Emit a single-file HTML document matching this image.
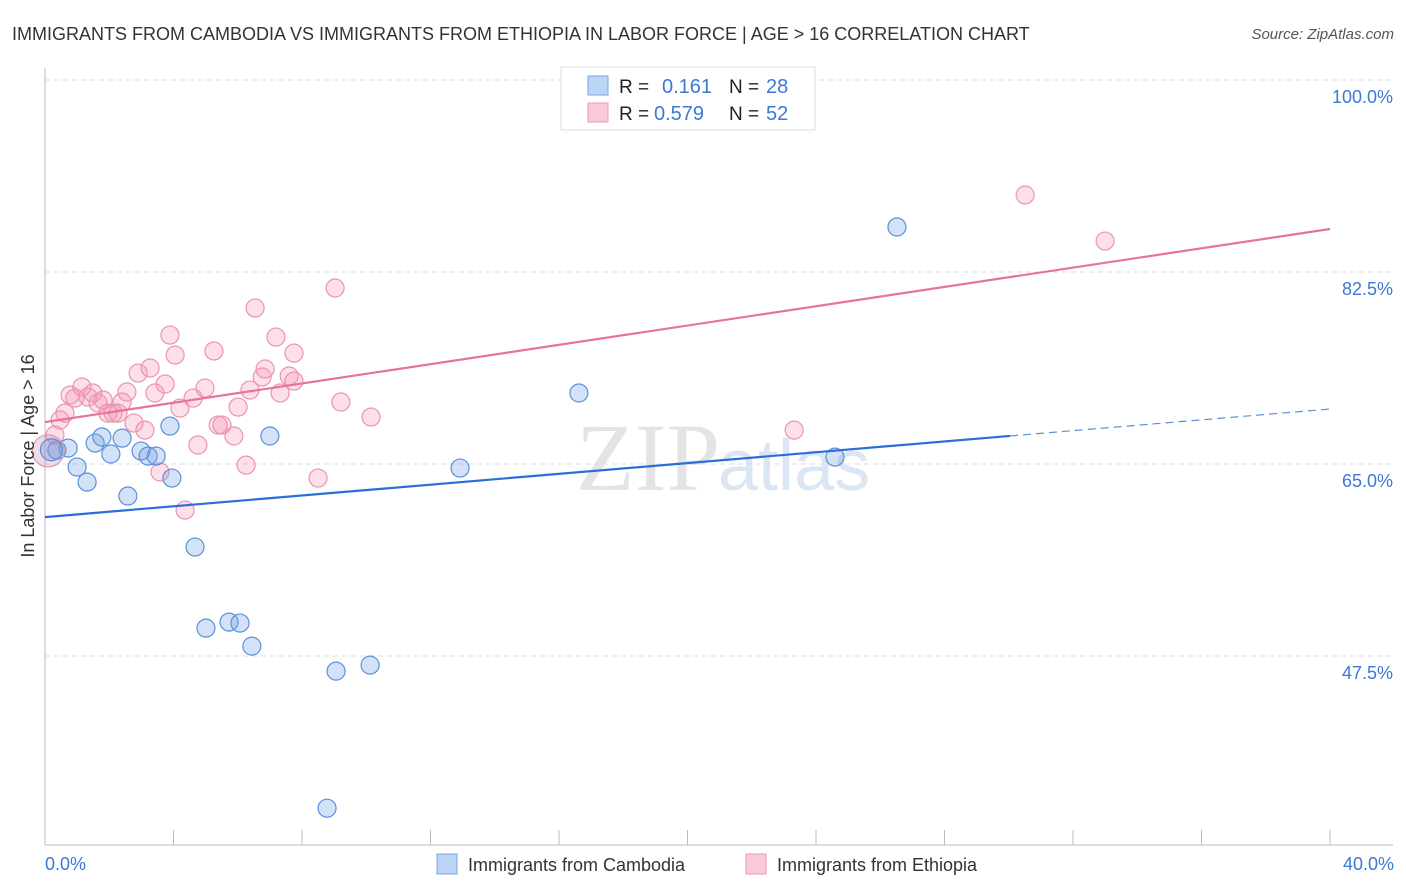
<!DOCTYPE html>
<html><head><meta charset="utf-8">
<style>
body{margin:0;background:#fff;font-family:"Liberation Sans",sans-serif;}
svg{display:block}
</style></head>
<body>
<svg id="chart" width="1406" height="892">
<text x="12" y="40" font-size="18" fill="#333">IMMIGRANTS FROM CAMBODIA VS IMMIGRANTS FROM ETHIOPIA IN LABOR FORCE | AGE &gt; 16 CORRELATION CHART</text>
<text x="1394" y="39" font-size="15" fill="#555" font-style="italic" text-anchor="end">Source: ZipAtlas.com</text>
<text x="720" y="490" font-size="96" fill="#e4e4e4" text-anchor="end" font-family="Liberation Serif,serif">ZIP</text>
<text x="718" y="490" font-size="72" fill="#dbe6f5">atlas</text>
<g id="grid"></g>
<g id="axes"></g>
<g id="marks"></g>
<text transform="translate(34,456) rotate(-90)" font-size="18" fill="#333" text-anchor="middle">In Labor Force | Age &gt; 16</text>
<text x="45" y="870" font-size="18" fill="#3b78d8">0.0%</text>
<text x="1394" y="870" font-size="18" fill="#3b78d8" text-anchor="end">40.0%</text>
<g>
<rect x="561" y="67" width="254" height="63" fill="#fff" stroke="#ddd"/>
<rect x="588" y="76" width="20" height="19" fill="#bcd4f5" stroke="#7aa6e6"/>
<rect x="588" y="103" width="20" height="19" fill="#fbcad9" stroke="#eb9ab5"/>
<text x="619" y="93" font-size="19" fill="#222">R = </text><text x="662" y="93" font-size="20" fill="#3b78d8">0.161</text>
<text x="729" y="93" font-size="19" fill="#222">N = </text><text x="766" y="93" font-size="20" fill="#3b78d8">28</text>
<text x="619" y="120" font-size="19" fill="#222">R = </text><text x="654" y="120" font-size="20" fill="#3b78d8">0.579</text>
<text x="729" y="120" font-size="19" fill="#222">N = </text><text x="766" y="120" font-size="20" fill="#3b78d8">52</text>
</g>
<g>
<rect x="437" y="854" width="20" height="20" fill="#bcd4f5" stroke="#7aa6e6"/>
<text x="468" y="871" font-size="18" fill="#333">Immigrants from Cambodia</text>
<rect x="746" y="854" width="20" height="20" fill="#fbcad9" stroke="#eb9ab5"/>
<text x="777" y="871" font-size="18" fill="#333">Immigrants from Ethiopia</text>
</g>
</svg>
<script>
const yTicks=[100,82.5,65,47.5];
const yTickLabels=["100.0%","82.5%","65.0%","47.5%"];
const xTicks=[0,4,8,12,16,20,24,28,32,36,40];
const cambodiaX=[0.37,0.72,1.00,1.31,1.56,1.77,2.05,2.40,2.58,2.99,3.21,3.46,3.89,3.95,4.67,5.01,5.73,6.07,6.44,7.00,9.06,8.78,10.12,12.92,16.62,24.59,26.52];
const cambodiaY=[66.27,66.45,64.72,63.35,66.91,67.46,65.91,67.36,62.08,66.18,65.72,65.72,68.46,63.72,57.43,50.04,50.59,50.50,48.40,67.55,46.12,33.63,46.67,64.63,71.47,65.63,86.60];
const ethiopiaX=[0.31,0.47,0.62,0.78,0.93,1.15,1.34,1.49,1.65,1.81,1.96,2.12,2.27,2.40,2.55,2.77,2.90,3.11,3.27,3.42,3.58,3.74,3.89,4.05,4.20,4.36,4.61,4.76,4.98,5.26,5.39,5.51,5.88,6.01,6.26,6.38,6.54,6.76,6.85,7.19,7.32,7.60,7.75,7.75,8.50,9.03,9.21,10.15,23.32,30.51,33.00];
const ethiopiaY=[67.64,69.01,69.64,71.28,71.01,72.01,71.10,71.47,70.56,70.83,69.64,69.64,69.64,70.65,71.56,68.73,73.29,68.09,73.75,71.47,64.27,72.29,76.75,74.93,70.10,60.80,71.01,66.73,71.92,75.30,68.55,68.55,67.55,70.19,64.90,71.74,79.22,72.93,73.66,76.57,71.47,73.02,72.56,75.11,63.72,81.04,70.65,69.28,68.09,89.52,85.32];
const cambodiaTrend=[60.16,70.01];
const cambodiaSolidEnd=30.04;
const ethiopiaTrend=[68.82,86.42];
const NS="http://www.w3.org/2000/svg";
const X=v=>45+v/40*1285;
const Y=v=>80+(100-v)/17.5*192;
function mk(t,a,p){const e=document.createElementNS(NS,t);for(const k in a)e.setAttribute(k,a[k]);p.appendChild(e);return e;}
const grid=document.getElementById('grid'),axes=document.getElementById('axes'),marks=document.getElementById('marks');
yTicks.forEach((t,i)=>{
 const l=mk('line',{x1:45,x2:1393,y1:Y(t),y2:Y(t),stroke:'#ddd','stroke-dasharray':'5,4'},grid);
 
 
 const tx=mk('text',{x:1393,y:Y(t)+23,'text-anchor':'end','font-size':18,fill:'#3b78d8'},grid);
 tx.textContent=yTickLabels[i];
 
 
});
const ax=mk('line',{x1:45,x2:45,y1:68,y2:845,stroke:'#bbb'},axes);


const bx=mk('line',{x1:45,x2:1393,y1:845,y2:845,stroke:'#bbb'},axes);


xTicks.forEach(t=>{
 const l=mk('line',{x1:X(t),x2:X(t),y1:830,y2:845,stroke:'#bbb'},axes);
 
 
});
function dot(x,y,r,c,name){
 const e=mk('circle',{cx:X(x),cy:Y(y),r:r,fill:c[0],stroke:c[1],'stroke-width':1.2},marks);
 
 
}
const blueC=['rgba(110,160,230,0.3)','#5c8fdb'],pinkC=['rgba(245,150,180,0.3)','#eb93b0'];
ethiopiaX.forEach((x,i)=>dot(x,ethiopiaY[i],9,pinkC,'ethiopia-point'));
cambodiaX.forEach((x,i)=>dot(x,cambodiaY[i],9,blueC,'cambodia-point'));
dot(0.1,66.2,16,['rgba(200,140,180,0.3)','#d59abb'],'ethiopia-point-large');
dot(0.2,66.3,11,['rgba(110,150,220,0.35)','#5c8fdb'],'cambodia-point-large');
const slope=(cambodiaTrend[1]-cambodiaTrend[0])/40;
let t1=mk('line',{x1:X(0),y1:Y(cambodiaTrend[0]),x2:X(cambodiaSolidEnd),y2:Y(cambodiaTrend[0]+slope*cambodiaSolidEnd),stroke:'#2b6fd6','stroke-width':2.2},marks);


let t2=mk('line',{x1:X(cambodiaSolidEnd),y1:Y(cambodiaTrend[0]+slope*cambodiaSolidEnd),x2:X(40),y2:Y(cambodiaTrend[1]),stroke:'#5c8fdb','stroke-width':1.2,'stroke-dasharray':'8,5'},marks);


let t3=mk('line',{x1:X(0),y1:Y(ethiopiaTrend[0]),x2:X(40),y2:Y(ethiopiaTrend[1]),stroke:'#e8729a','stroke-width':2.2},marks);


</script>
</body></html>
